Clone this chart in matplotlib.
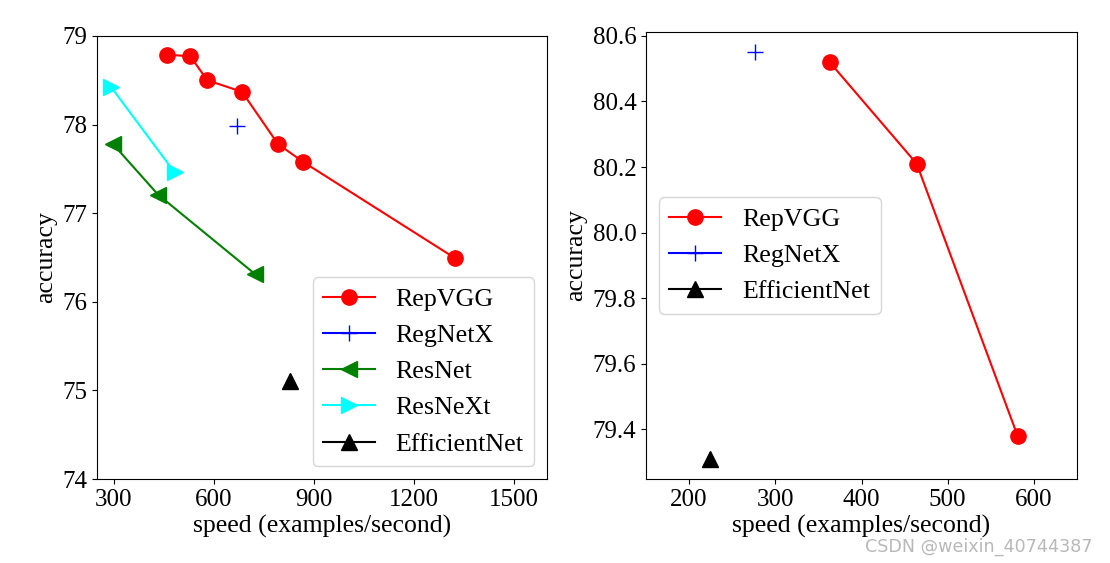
import matplotlib
matplotlib.use("Agg")
import matplotlib.pyplot as plt

plt.rcParams['font.family'] = ['Liberation Serif', 'DejaVu Serif']

# Left panel data
repvgg_speed_l = [459, 530, 581, 685, 793, 868, 1325]
repvgg_acc_l = [78.79, 78.77, 78.50, 78.37, 77.78, 77.58, 76.49]
regnetx_speed_l = [671]
regnetx_acc_l = [77.98]
resnet_speed = [298, 433, 725]
resnet_acc = [77.78, 77.21, 76.31]
resnext_speed = [293, 483]
resnext_acc = [78.42, 77.46]
effnet_speed_l = [830]
effnet_acc_l = [75.11]

# Right panel data
repvgg_speed_r = [363, 464, 581]
repvgg_acc_r = [80.52, 80.21, 79.38]
regnetx_speed_r = [277]
regnetx_acc_r = [80.55]
effnet_speed_r = [224]
effnet_acc_r = [79.31]

left_xticks = [300, 600, 900, 1200, 1500]
left_yticks = [74, 75, 76, 77, 78, 79]
right_xticks = [200, 300, 400, 500, 600]

FS = 18
LFS = 18.5
LEGFS = 18.7
fig = plt.figure(figsize=(11.1, 5.63), dpi=100)
ax1 = fig.add_axes([0.0874, 0.1492, 0.4054, 0.7869])
ax2 = fig.add_axes([0.582, 0.1492, 0.3883, 0.794])

ms = 11
lw = 1.5
ax1.plot(repvgg_speed_l, repvgg_acc_l, '-o', color='red', ms=ms, lw=lw, label='RepVGG')
ax1.plot(regnetx_speed_l, regnetx_acc_l, '-+', color='blue', ms=ms, lw=lw, label='RegNetX')
ax1.plot(resnet_speed, resnet_acc, '-<', color='green', ms=ms, lw=lw, label='ResNet')
ax1.plot(resnext_speed, resnext_acc, '->', color='cyan', ms=ms, lw=lw, label='ResNeXt')
ax1.plot(effnet_speed_l, effnet_acc_l, '-^', color='black', ms=ms, lw=lw, label='EfficientNet')
ax1.set_xlim(250, 1600)
ax1.set_ylim(74, 79)
ax1.set_xticks(left_xticks)
ax1.set_yticks(left_yticks)
ax1.set_xlabel('speed (examples/second)', fontsize=LFS, labelpad=3)
ax1.set_ylabel('accuracy', fontsize=LFS)
ax1.tick_params(labelsize=FS)
ax1.legend(loc='lower right', fontsize=LEGFS, numpoints=1)

ax2.plot(repvgg_speed_r, repvgg_acc_r, '-o', color='red', ms=ms, lw=lw, label='RepVGG')
ax2.plot(regnetx_speed_r, regnetx_acc_r, '-+', color='blue', ms=ms, lw=lw, label='RegNetX')
ax2.plot(effnet_speed_r, effnet_acc_r, '-^', color='black', ms=ms, lw=lw, label='EfficientNet')
ax2.set_xlim(150, 650)
ax2.set_xticks(right_xticks)
ax2.set_xlabel('speed (examples/second)', fontsize=LFS, labelpad=3)
ax2.set_ylabel('accuracy', fontsize=LFS)
ax2.tick_params(labelsize=FS)
ax2.legend(loc='center left', fontsize=LEGFS, numpoints=1)

fig.text(0.984, 0.028, 'CSDN @weixin_40744387', ha='right', va='center',
         fontsize=12.6, color='#b8b8b8', family=['DejaVu Sans'])

fig.savefig('out.png', dpi=100)
